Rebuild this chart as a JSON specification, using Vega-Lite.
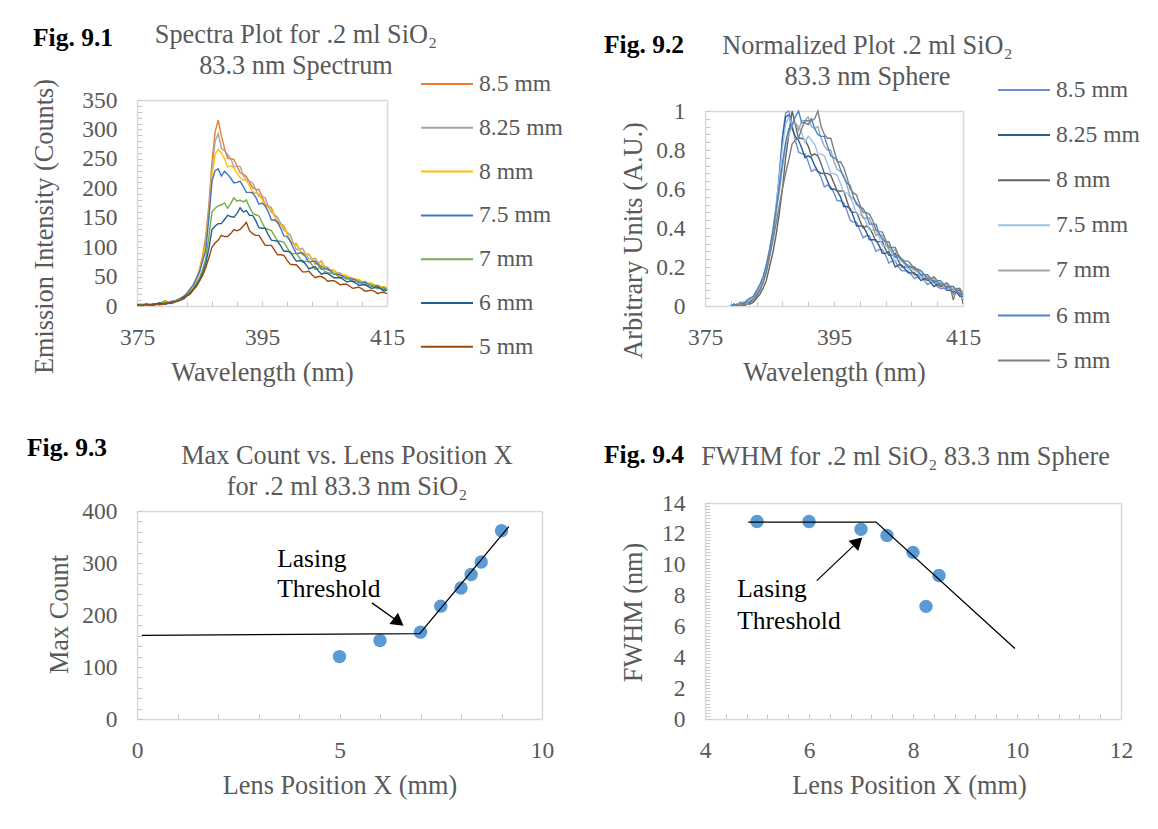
{
"$schema": "https://vega.github.io/schema/vega-lite/v6.json",
"background": "white",
"padding": {"left": 27, "top": 21, "right": 10, "bottom": 10},
"autosize": {"type": "pad"},
"config": {
  "font": "Liberation Serif",
  "view": {"stroke": null},
  "axis": {"labelFont": "Liberation Serif", "labelFontSize": 23.5, "labelColor": "#595959", "titleFont": "Liberation Serif", "titleFontSize": 26.3, "titleColor": "#595959", "titleFontWeight": "normal", "domainColor": "#d9d9d9", "domainWidth": 1.5, "tickColor": "#c8c8c8", "tickWidth": 1, "tickSize": -5, "grid": false, "labelFlush": false, "labelOverlap": false, "labelBound": false, "titleBaseline": "alphabetic", "titleAlign": "center", "titleLineHeight": 31},
  "axisX": {"labelPadding": 24},
  "axisY": {"labelPadding": 25},
  "legend": {"orient": "none", "labelFont": "Liberation Serif", "labelFontSize": 23.6, "labelColor": "#595959", "symbolType": "stroke", "symbolSize": 2704, "symbolStrokeWidth": 2, "labelOffset": 5, "padding": 0, "labelLimit": 300},
  "title": {"font": "Liberation Serif", "fontSize": 25.5, "fontWeight": "bold", "color": "#000000", "orient": "none", "anchor": "start", "baseline": "top"}
},
"concat": [
{
  "width": 250, "height": 206,
  "title": {"text": "Fig. 9.1", "dx": -104, "dy": -74, "baseline": "top"},
  "data": {"values": [
{"w":375,"a":2,"b":1,"c":3,"d":2,"e":1,"f":2,"g":3},
{"w":375.5,"a":1,"b":3,"c":2,"d":1,"e":3,"f":1,"g":1},
{"w":376,"a":1,"b":2,"c":1,"d":3,"e":2,"f":1,"g":2},
{"w":376.5,"a":3,"b":1,"c":2,"d":2,"e":1,"f":3,"g":4},
{"w":377,"a":3,"b":2,"c":2,"d":1,"e":3,"f":2,"g":1},
{"w":377.5,"a":1,"b":4,"c":3,"d":3,"e":2,"f":1,"g":3},
{"w":378,"a":2,"b":3,"c":4,"d":3,"e":2,"f":3,"g":4},
{"w":378.5,"a":4,"b":2,"c":3,"d":5,"e":4,"f":5,"g":2},
{"w":379,"a":4,"b":3,"c":3,"d":5,"e":6,"f":4,"g":3},
{"w":379.5,"a":3,"b":5,"c":6,"d":4,"e":9,"f":3,"g":5},
{"w":380,"a":5,"b":6,"c":5,"d":4,"e":7,"f":5,"g":5},
{"w":380.5,"a":7,"b":5,"c":7,"d":8,"e":6,"f":7,"g":4},
{"w":381,"a":8,"b":7,"c":8,"d":9,"e":8,"f":7,"g":6},
{"w":381.5,"a":11,"b":9,"c":10,"d":10,"e":11,"f":8,"g":9},
{"w":382,"a":13,"b":12,"c":12,"d":14,"e":12,"f":11,"g":10},
{"w":382.5,"a":17,"b":16,"c":15,"d":16,"e":14,"f":15,"g":12},
{"w":383,"a":20,"b":19,"c":21,"d":22,"e":19,"f":18,"g":17},
{"w":383.5,"a":27,"b":25,"c":26,"d":29,"e":24,"f":22,"g":20},
{"w":384,"a":35,"b":33,"c":34,"d":36,"e":30,"f":28,"g":27},
{"w":384.5,"a":46,"b":44,"c":45,"d":47,"e":39,"f":36,"g":33},
{"w":385,"a":62,"b":58,"c":60,"d":58,"e":48,"f":44,"g":42},
{"w":385.5,"a":86,"b":80,"c":80,"d":76,"e":62,"f":56,"g":52},
{"w":386,"a":118,"b":110,"c":105,"d":95,"e":80,"f":72,"g":65},
{"w":386.5,"a":172,"b":162,"c":152,"d":150,"e":118,"f":98,"g":82},
{"w":387,"a":245,"b":232,"c":222,"d":212,"e":160,"f":130,"g":100},
{"w":387.5,"a":296,"b":280,"c":258,"d":230,"e":166,"f":136,"g":107},
{"w":388,"a":316,"b":293,"c":266,"d":233,"e":170,"f":140,"g":112},
{"w":388.5,"a":289,"b":268,"c":260,"d":221,"e":172,"f":140,"g":120},
{"w":389,"a":268,"b":264,"c":250,"d":229,"e":175,"f":147,"g":118},
{"w":389.5,"a":251,"b":257,"c":236,"d":224,"e":166,"f":154,"g":118},
{"w":390,"a":250,"b":251,"c":238,"d":217,"e":174,"f":152,"g":123},
{"w":390.5,"a":249,"b":236,"c":234,"d":209,"e":184,"f":151,"g":130},
{"w":391,"a":238,"b":238,"c":226,"d":210,"e":178,"f":157,"g":128},
{"w":391.5,"a":226,"b":237,"c":218,"d":212,"e":180,"f":167,"g":130},
{"w":392,"a":224,"b":222,"c":214,"d":203,"e":177,"f":160,"g":136},
{"w":392.5,"a":220,"b":214,"c":214,"d":193,"e":180,"f":162,"g":142},
{"w":393,"a":210,"b":212,"c":204,"d":193,"e":168,"f":154,"g":128},
{"w":393.5,"a":201,"b":209,"c":194,"d":192,"e":158,"f":154,"g":123},
{"w":394,"a":198,"b":198,"c":192,"d":185,"e":155,"f":145,"g":120},
{"w":394.5,"a":198,"b":186,"c":190,"d":173,"e":153,"f":133,"g":120},
{"w":395,"a":186,"b":186,"c":181,"d":175,"e":142,"f":132,"g":112},
{"w":395.5,"a":173,"b":184,"c":171,"d":170,"e":132,"f":132,"g":103},
{"w":396,"a":170,"b":170,"c":167,"d":160,"e":130,"f":121,"g":103},
{"w":396.5,"a":167,"b":159,"c":164,"d":146,"e":128,"f":112,"g":103},
{"w":397,"a":154,"b":155,"c":152,"d":146,"e":119,"f":111,"g":95},
{"w":397.5,"a":143,"b":151,"c":141,"d":142,"e":110,"f":110,"g":87},
{"w":398,"a":140,"b":140,"c":138,"d":132,"e":110,"f":102,"g":87},
{"w":398.5,"a":136,"b":129,"c":134,"d":119,"e":108,"f":93,"g":86},
{"w":399,"a":124,"b":125,"c":123,"d":118,"e":100,"f":93,"g":78},
{"w":399.5,"a":110,"b":121,"c":109,"d":111,"e":90,"f":92,"g":71},
{"w":400,"a":106,"b":108,"c":106,"d":99,"e":89,"f":84,"g":70},
{"w":400.5,"a":106,"b":96,"c":104,"d":89,"e":89,"f":76,"g":70},
{"w":401,"a":96,"b":96,"c":96,"d":90,"e":82,"f":77,"g":64},
{"w":401.5,"a":87,"b":98,"c":87,"d":90,"e":74,"f":77,"g":58},
{"w":402,"a":88,"b":88,"c":88,"d":83,"e":76,"f":71,"g":58},
{"w":402.5,"a":88,"b":80,"c":87,"d":74,"e":76,"f":63,"g":59},
{"w":403,"a":80,"b":80,"c":80,"d":76,"e":70,"f":65,"g":53},
{"w":403.5,"a":71,"b":81,"c":74,"d":76,"e":62,"f":67,"g":48},
{"w":404,"a":73,"b":73,"c":74,"d":70,"e":64,"f":60,"g":50},
{"w":404.5,"a":77,"b":66,"c":75,"d":62,"e":69,"f":54,"g":50},
{"w":405,"a":67,"b":67,"c":67,"d":64,"e":60,"f":56,"g":47},
{"w":405.5,"a":61,"b":66,"c":62,"d":63,"e":56,"f":55,"g":42},
{"w":406,"a":61,"b":61,"c":62,"d":59,"e":56,"f":52,"g":43},
{"w":406.5,"a":60,"b":55,"c":61,"d":54,"e":55,"f":48,"g":43},
{"w":407,"a":56,"b":56,"c":57,"d":54,"e":52,"f":48,"g":40},
{"w":407.5,"a":51,"b":56,"c":53,"d":53,"e":48,"f":48,"g":36},
{"w":408,"a":52,"b":52,"c":53,"d":50,"e":48,"f":45,"g":37},
{"w":408.5,"a":51,"b":48,"c":52,"d":46,"e":48,"f":41,"g":37},
{"w":409,"a":48,"b":48,"c":49,"d":47,"e":45,"f":42,"g":34},
{"w":409.5,"a":44,"b":47,"c":46,"d":46,"e":41,"f":42,"g":30},
{"w":410,"a":45,"b":45,"c":46,"d":44,"e":42,"f":39,"g":31},
{"w":410.5,"a":44,"b":41,"c":45,"d":39,"e":42,"f":35,"g":32},
{"w":411,"a":41,"b":41,"c":42,"d":40,"e":38,"f":36,"g":29},
{"w":411.5,"a":37,"b":42,"c":38,"d":40,"e":35,"f":36,"g":25},
{"w":412,"a":38,"b":38,"c":39,"d":37,"e":35,"f":33,"g":26},
{"w":412.5,"a":38,"b":35,"c":39,"d":33,"e":36,"f":30,"g":27},
{"w":413,"a":35,"b":35,"c":36,"d":34,"e":33,"f":31,"g":25},
{"w":413.5,"a":31,"b":35,"c":32,"d":35,"e":29,"f":32,"g":21},
{"w":414,"a":32,"b":32,"c":33,"d":31,"e":31,"f":29,"g":23},
{"w":414.5,"a":33,"b":28,"c":33,"d":28,"e":31,"f":25,"g":23},
{"w":415,"a":30,"b":30,"c":31,"d":29,"e":29,"f":27,"g":21}
  ]},
  "layer": [
    {
      "transform": [{"fold": ["a","b","c","d"], "as": ["pos","count"]}],
      "mark": {"type": "line", "strokeWidth": 1.4, "clip": true},
      "encoding": {
        "x": {"field": "w", "type": "quantitative", "scale": {"domain": [375,415], "nice": false, "zero": false},
              "axis": {"orient": "bottom", "values": [375,379,383,387,391,395,399,403,407,411,415], "labelExpr": "(datum.value-375)%20==0 ? datum.label : ''", "title": "Wavelength (nm)", "titleX": 125, "titleY": 74}},
        "y": {"field": "count", "type": "quantitative", "scale": {"domain": [0,350], "nice": false, "zero": false},
              "axis": {"orient": "left", "values": [0,10,20,30,40,50,60,70,80,90,100,110,120,130,140,150,160,170,180,190,200,210,220,230,240,250,260,270,280,290,300,310,320,330,340,350], "labelExpr": "datum.value%50==0 ? datum.label : ''", "title": "Emission Intensity (Counts)", "titleAngle": 270, "titleX": -84.3, "titleY": 126}},
        "color": {"field": "pos", "type": "nominal", "scale": {"domain": ["a","b","c","d","e","f","g"], "range": ["#ed7d31","#a5a5a5","#ffc000","#4472c4","#70ad47","#255e91","#9e480e"]},
                  "legend": {"title": null, "legendX": 283, "legendY": -43, "rowPadding": 4.8, "labelExpr": "datum.label=='a'?'8.5 mm':datum.label=='b'?'8.25 mm':datum.label=='c'?'8 mm':datum.label=='d'?'7.5 mm':datum.label=='e'?'7 mm':datum.label=='f'?'6 mm':'5 mm'"}}
      }
    },
    {
      "transform": [{"fold": ["e","f","g"], "as": ["pos","count"]}],
      "mark": {"type": "line", "strokeWidth": 1.4, "clip": true},
      "encoding": {
        "x": {"field": "w", "type": "quantitative", "scale": {"domain": [375,415], "nice": false, "zero": false},
              "axis": {"orient": "top", "labels": false, "ticks": false, "title": ["Spectra Plot for .2 ml SiO₂", "83.3 nm Spectrum"], "titleX": 158.5, "titleY": -57.3}},
        "y": {"field": "count", "type": "quantitative", "scale": {"domain": [0,350], "nice": false, "zero": false},
              "axis": {"orient": "right", "labels": false, "ticks": false, "title": null}},
        "color": {"field": "pos", "type": "nominal", "scale": {"domain": ["a","b","c","d","e","f","g"], "range": ["#ed7d31","#a5a5a5","#ffc000","#4472c4","#70ad47","#255e91","#9e480e"]},
                  "legend": {"title": null, "legendX": 283, "legendY": -43, "rowPadding": 4.8, "labelExpr": "datum.label=='a'?'8.5 mm':datum.label=='b'?'8.25 mm':datum.label=='c'?'8 mm':datum.label=='d'?'7.5 mm':datum.label=='e'?'7 mm':datum.label=='f'?'6 mm':'5 mm'"}}
      }
    }
  ],
  "resolve": {"axis": {"x": "independent", "y": "independent"}}
},
{
  "width": 258, "height": 206,
  "title": {"text": "Fig. 9.2", "dx": -101, "dy": -67.3, "baseline": "top"},
  "data": {"values": [
{"w":379,"a":0,"b":0,"c":0,"d":0.01,"e":0,"f":0,"g":0},
{"w":379.5,"a":0.01,"b":0,"c":0,"d":0,"e":0.01,"f":0.01,"g":0},
{"w":380,"a":0,"b":0.01,"c":0,"d":0.01,"e":0,"f":0,"g":0.01},
{"w":380.5,"a":0.01,"b":0,"c":0.01,"d":0,"e":0.01,"f":0.02,"g":0},
{"w":381,"a":0.01,"b":0.02,"c":0,"d":0.01,"e":0.02,"f":0.01,"g":0.01},
{"w":381.5,"a":0.02,"b":0.01,"c":0.01,"d":0.02,"e":0.01,"f":0.03,"g":0.02},
{"w":382,"a":0.03,"b":0.02,"c":0.01,"d":0.03,"e":0.03,"f":0.04,"g":0.02},
{"w":382.5,"a":0.05,"b":0.04,"c":0.02,"d":0.05,"e":0.04,"f":0.05,"g":0.03},
{"w":383,"a":0.06,"b":0.06,"c":0.04,"d":0.07,"e":0.07,"f":0.08,"g":0.05},
{"w":383.5,"a":0.09,"b":0.08,"c":0.06,"d":0.1,"e":0.09,"f":0.11,"g":0.08},
{"w":384,"a":0.14,"b":0.12,"c":0.09,"d":0.14,"e":0.13,"f":0.15,"g":0.12},
{"w":384.5,"a":0.2,"b":0.18,"c":0.13,"d":0.21,"e":0.19,"f":0.21,"g":0.17},
{"w":385,"a":0.27,"b":0.26,"c":0.2,"d":0.28,"e":0.27,"f":0.29,"g":0.25},
{"w":385.5,"a":0.37,"b":0.36,"c":0.27,"d":0.39,"e":0.36,"f":0.38,"g":0.33},
{"w":386,"a":0.5,"b":0.48,"c":0.36,"d":0.51,"e":0.47,"f":0.49,"g":0.42},
{"w":386.5,"a":0.67,"b":0.65,"c":0.47,"d":0.65,"e":0.58,"f":0.61,"g":0.51},
{"w":387,"a":0.87,"b":0.85,"c":0.6,"d":0.81,"e":0.71,"f":0.73,"g":0.6},
{"w":387.5,"a":0.99,"b":0.97,"c":0.76,"d":0.93,"e":0.82,"f":0.84,"g":0.68},
{"w":388,"a":1,"b":0.98,"c":0.88,"d":0.97,"e":0.88,"f":0.91,"g":0.75},
{"w":388.5,"a":0.93,"b":0.91,"c":1,"d":0.93,"e":0.93,"f":0.93,"g":0.83},
{"w":389,"a":0.85,"b":0.87,"c":0.93,"d":0.94,"e":0.94,"f":0.97,"g":0.85},
{"w":389.5,"a":0.79,"b":0.85,"c":0.86,"d":0.92,"e":0.9,"f":1,"g":0.86},
{"w":390,"a":0.78,"b":0.81,"c":0.86,"d":0.89,"e":0.95,"f":0.94,"g":0.91},
{"w":390.5,"a":0.78,"b":0.76,"c":0.85,"d":0.84,"e":0.95,"f":0.94,"g":0.95},
{"w":391,"a":0.74,"b":0.77,"c":0.82,"d":0.87,"e":0.97,"f":0.93,"g":0.95},
{"w":391.5,"a":0.69,"b":0.76,"c":0.77,"d":0.85,"e":0.92,"f":0.96,"g":0.95},
{"w":392,"a":0.7,"b":0.72,"c":0.78,"d":0.83,"e":0.91,"f":0.91,"g":0.96},
{"w":392.5,"a":0.69,"b":0.69,"c":0.77,"d":0.78,"e":0.92,"f":0.88,"g":1},
{"w":393,"a":0.66,"b":0.68,"c":0.73,"d":0.78,"e":0.86,"f":0.87,"g":0.92},
{"w":393.5,"a":0.61,"b":0.68,"c":0.68,"d":0.77,"e":0.82,"f":0.87,"g":0.88},
{"w":394,"a":0.62,"b":0.64,"c":0.68,"d":0.73,"e":0.8,"f":0.82,"g":0.86},
{"w":394.5,"a":0.61,"b":0.6,"c":0.67,"d":0.68,"e":0.8,"f":0.77,"g":0.86},
{"w":395,"a":0.58,"b":0.6,"c":0.63,"d":0.68,"e":0.74,"f":0.76,"g":0.8},
{"w":395.5,"a":0.54,"b":0.59,"c":0.59,"d":0.67,"e":0.7,"f":0.75,"g":0.74},
{"w":396,"a":0.54,"b":0.56,"c":0.59,"d":0.63,"e":0.69,"f":0.7,"g":0.74},
{"w":396.5,"a":0.53,"b":0.51,"c":0.59,"d":0.58,"e":0.67,"f":0.66,"g":0.71},
{"w":397,"a":0.49,"b":0.51,"c":0.54,"d":0.58,"e":0.62,"f":0.63,"g":0.66},
{"w":397.5,"a":0.44,"b":0.5,"c":0.49,"d":0.56,"e":0.56,"f":0.62,"g":0.6},
{"w":398,"a":0.43,"b":0.46,"c":0.48,"d":0.52,"e":0.55,"f":0.56,"g":0.58},
{"w":398.5,"a":0.43,"b":0.41,"c":0.48,"d":0.47,"e":0.53,"f":0.52,"g":0.57},
{"w":399,"a":0.39,"b":0.41,"c":0.44,"d":0.47,"e":0.5,"f":0.51,"g":0.52},
{"w":399.5,"a":0.35,"b":0.41,"c":0.4,"d":0.46,"e":0.45,"f":0.5,"g":0.48},
{"w":400,"a":0.36,"b":0.38,"c":0.41,"d":0.43,"e":0.45,"f":0.47,"g":0.48},
{"w":400.5,"a":0.36,"b":0.34,"c":0.4,"d":0.39,"e":0.45,"f":0.42,"g":0.47},
{"w":401,"a":0.32,"b":0.34,"c":0.37,"d":0.39,"e":0.41,"f":0.42,"g":0.44},
{"w":401.5,"a":0.28,"b":0.34,"c":0.33,"d":0.39,"e":0.36,"f":0.42,"g":0.39},
{"w":402,"a":0.29,"b":0.31,"c":0.33,"d":0.35,"e":0.37,"f":0.37,"g":0.38},
{"w":402.5,"a":0.29,"b":0.27,"c":0.33,"d":0.31,"e":0.36,"f":0.34,"g":0.38},
{"w":403,"a":0.26,"b":0.27,"c":0.29,"d":0.31,"e":0.32,"f":0.33,"g":0.34},
{"w":403.5,"a":0.22,"b":0.28,"c":0.26,"d":0.31,"e":0.29,"f":0.33,"g":0.3},
{"w":404,"a":0.23,"b":0.24,"c":0.26,"d":0.27,"e":0.28,"f":0.29,"g":0.3},
{"w":404.5,"a":0.23,"b":0.2,"c":0.27,"d":0.23,"e":0.29,"f":0.25,"g":0.3},
{"w":405,"a":0.2,"b":0.21,"c":0.23,"d":0.24,"e":0.25,"f":0.26,"g":0.26},
{"w":405.5,"a":0.18,"b":0.21,"c":0.2,"d":0.23,"e":0.23,"f":0.24,"g":0.24},
{"w":406,"a":0.18,"b":0.19,"c":0.2,"d":0.21,"e":0.22,"f":0.22,"g":0.23},
{"w":406.5,"a":0.18,"b":0.17,"c":0.2,"d":0.19,"e":0.21,"f":0.2,"g":0.23},
{"w":407,"a":0.16,"b":0.17,"c":0.18,"d":0.19,"e":0.2,"f":0.2,"g":0.21},
{"w":407.5,"a":0.14,"b":0.17,"c":0.16,"d":0.19,"e":0.18,"f":0.2,"g":0.19},
{"w":408,"a":0.15,"b":0.15,"c":0.16,"d":0.17,"e":0.18,"f":0.18,"g":0.19},
{"w":408.5,"a":0.15,"b":0.13,"c":0.16,"d":0.15,"e":0.18,"f":0.16,"g":0.18},
{"w":409,"a":0.13,"b":0.14,"c":0.14,"d":0.15,"e":0.16,"f":0.16,"g":0.16},
{"w":409.5,"a":0.11,"b":0.14,"c":0.13,"d":0.15,"e":0.14,"f":0.16,"g":0.14},
{"w":410,"a":0.12,"b":0.12,"c":0.13,"d":0.13,"e":0.14,"f":0.14,"g":0.14},
{"w":410.5,"a":0.12,"b":0.1,"c":0.13,"d":0.12,"e":0.14,"f":0.12,"g":0.15},
{"w":411,"a":0.1,"b":0.11,"c":0.11,"d":0.12,"e":0.12,"f":0.13,"g":0.13},
{"w":411.5,"a":0.09,"b":0.11,"c":0.1,"d":0.12,"e":0.11,"f":0.13,"g":0.11},
{"w":412,"a":0.09,"b":0.1,"c":0.1,"d":0.1,"e":0.11,"f":0.11,"g":0.11},
{"w":412.5,"a":0.1,"b":0.08,"c":0.1,"d":0.09,"e":0.11,"f":0.09,"g":0.12},
{"w":413,"a":0.08,"b":0.08,"c":0.09,"d":0.09,"e":0.1,"f":0.1,"g":0.1},
{"w":413.5,"a":0.06,"b":0.09,"c":0.07,"d":0.09,"e":0.08,"f":0.1,"g":0.03},
{"w":414,"a":0.07,"b":0.07,"c":0.08,"d":0.08,"e":0.08,"f":0.08,"g":0.09},
{"w":414.5,"a":0.07,"b":0.05,"c":0.08,"d":0.06,"e":0.09,"f":0.06,"g":0.09},
{"w":415,"a":0.06,"b":0.05,"c":0.07,"d":0.06,"e":0.07,"f":0.06,"g":0.01}
  ]},
  "layer": [
    {
      "transform": [{"fold": ["a","b","c","d"], "as": ["pos","count"]}],
      "mark": {"type": "line", "strokeWidth": 1.4, "clip": true},
      "encoding": {
        "x": {"field": "w", "type": "quantitative", "scale": {"domain": [375,415], "nice": false, "zero": false},
              "axis": {"orient": "bottom", "values": [375,379,383,387,391,395,399,403,407,411,415], "labelExpr": "(datum.value-375)%20==0 ? datum.label : ''", "title": "Wavelength (nm)", "titleX": 129, "titleY": 74}},
        "y": {"field": "count", "type": "quantitative", "scale": {"domain": [0,1], "range": [206,11], "nice": false, "zero": false},
              "axis": {"orient": "left", "values": [0,0.04,0.08,0.12,0.16,0.2,0.24,0.28,0.32,0.36,0.4,0.44,0.48,0.52,0.56,0.6,0.64,0.68,0.72,0.76,0.8,0.84,0.88,0.92,0.96,1], "labelExpr": "abs(datum.value*5-round(datum.value*5))<0.001 ? format(datum.value,'.1~f') : ''", "title": "Arbitrary Units (A.U.)", "titleAngle": 270, "titleX": -63.4, "titleY": 140}},
        "color": {"field": "pos", "type": "nominal", "scale": {"domain": ["a","b","c","d","e","f","g"], "range": ["#6f8fd5","#2a5d93","#636363","#9dc3e6","#a5a5a5","#4285cc","#7f7f7f"]},
                  "legend": {"title": null, "legendX": 292, "legendY": -37, "rowPadding": 6.1, "labelExpr": "datum.label=='a'?'8.5 mm':datum.label=='b'?'8.25 mm':datum.label=='c'?'8 mm':datum.label=='d'?'7.5 mm':datum.label=='e'?'7 mm':datum.label=='f'?'6 mm':'5 mm'"}}
      }
    },
    {
      "transform": [{"fold": ["e","f","g"], "as": ["pos","count"]}],
      "mark": {"type": "line", "strokeWidth": 1.4, "clip": true},
      "encoding": {
        "x": {"field": "w", "type": "quantitative", "scale": {"domain": [375,415], "nice": false, "zero": false},
              "axis": {"orient": "top", "offset": -11, "labels": false, "ticks": false, "title": ["Normalized Plot .2 ml SiO₂", "83.3 nm Sphere"], "titleX": 162, "titleY": -57.7}},
        "y": {"field": "count", "type": "quantitative", "scale": {"domain": [0,1], "range": [206,11], "nice": false, "zero": false},
              "axis": {"orient": "right", "labels": false, "ticks": false, "title": null}},
        "color": {"field": "pos", "type": "nominal", "scale": {"domain": ["a","b","c","d","e","f","g"], "range": ["#6f8fd5","#2a5d93","#636363","#9dc3e6","#a5a5a5","#4285cc","#7f7f7f"]},
                  "legend": {"title": null, "legendX": 292, "legendY": -37, "rowPadding": 6.1, "labelExpr": "datum.label=='a'?'8.5 mm':datum.label=='b'?'8.25 mm':datum.label=='c'?'8 mm':datum.label=='d'?'7.5 mm':datum.label=='e'?'7 mm':datum.label=='f'?'6 mm':'5 mm'"}}
      }
    }
  ],
  "resolve": {"axis": {"x": "independent", "y": "independent"}}
},
{
  "width": 405, "height": 216,
  "title": {"text": "Fig. 9.3", "dx": -110, "dy": -67, "baseline": "top"},
  "layer": [
    {
      "data": {"values": [{"x":5,"y":120},{"x":6,"y":151},{"x":7,"y":167},{"x":7.5,"y":217},{"x":8,"y":252},{"x":8.25,"y":278},{"x":8.5,"y":302},{"x":9,"y":362}]},
      "mark": {"type": "circle", "size": 180, "color": "#5b9bd5", "opacity": 1},
      "encoding": {
        "x": {"field": "x", "type": "quantitative", "scale": {"domain": [0,10], "nice": false, "zero": false},
              "axis": {"orient": "top", "offset": -8, "labels": false, "ticks": false, "title": ["Max Count vs. Lens Position X", "for .2 ml 83.3 nm SiO₂"], "titleX": 209.5, "titleY": -47.7}},
        "y": {"field": "y", "type": "quantitative", "scale": {"domain": [0,400], "range": [216,8], "nice": false, "zero": false},
              "axis": {"orient": "right", "labels": false, "ticks": false, "title": null}}
      }
    },
    {
      "data": {"values": [{"x":0.12,"y":161},{"x":6.98,"y":164},{"x":9.18,"y":370}]},
      "mark": {"type": "line", "color": "#000000", "strokeWidth": 1.3},
      "encoding": {
        "x": {"field": "x", "type": "quantitative", "scale": {"domain": [0,10], "nice": false, "zero": false},
              "axis": {"orient": "bottom", "values": [0,1,2,3,4,5,6,7,8,9,10], "labelExpr": "datum.value%5==0 ? datum.label : ''", "title": "Lens Position X (mm)", "titleX": 202.5, "titleY": 74}},
        "y": {"field": "y", "type": "quantitative", "scale": {"domain": [0,400], "range": [216,8], "nice": false, "zero": false},
              "axis": {"orient": "left", "values": [0,20,40,60,80,100,120,140,160,180,200,220,240,260,280,300,320,340,360,380,400], "labelExpr": "datum.value%100==0 ? datum.label : ''", "title": "Max Count", "titleAngle": 270, "titleX": -70, "titleY": 111}}
      }
    },
    {
      "data": {"values": [{"x":5.8,"y":223.3},{"x":6.42,"y":188.8}]},
      "mark": {"type": "line", "color": "#000000", "strokeWidth": 1.3},
      "encoding": {
        "x": {"field": "x", "type": "quantitative", "scale": {"domain": [0,10], "nice": false, "zero": false}, "axis": null},
        "y": {"field": "y", "type": "quantitative", "scale": {"domain": [0,400], "range": [216,8], "nice": false, "zero": false}, "axis": null}
      }
    },
    {
      "data": {"values": [{"x":6.42,"y":188.8}]},
      "mark": {"type": "point", "shape": "triangle", "filled": true, "color": "#000000", "opacity": 1, "size": 200, "angle": 127},
      "encoding": {
        "x": {"field": "x", "type": "quantitative", "scale": {"domain": [0,10], "nice": false, "zero": false}, "axis": null},
        "y": {"field": "y", "type": "quantitative", "scale": {"domain": [0,400], "range": [216,8], "nice": false, "zero": false}, "axis": null}
      }
    },
    {
      "data": {"values": [{"t":"Lasing","x":3.46,"y":293.2},{"t":"Threshold","x":3.46,"y":233.8}]},
      "mark": {"type": "text", "align": "left", "baseline": "alphabetic", "fontSize": 25.5, "color": "#000000", "font": "Liberation Serif"},
      "encoding": {
        "x": {"field": "x", "type": "quantitative", "scale": {"domain": [0,10], "nice": false, "zero": false}, "axis": null},
        "y": {"field": "y", "type": "quantitative", "scale": {"domain": [0,400], "range": [216,8], "nice": false, "zero": false}, "axis": null},
        "text": {"field": "t"}
      }
    }
  ],
  "resolve": {"axis": {"x": "independent", "y": "independent"}}
},
{
  "width": 416, "height": 216,
  "title": {"text": "Fig. 9.4", "dx": -101, "dy": -60.3, "baseline": "top"},
  "layer": [
    {
      "data": {"values": [{"x":5,"y":12.8},{"x":6,"y":12.8},{"x":7,"y":12.3},{"x":7.5,"y":11.9},{"x":8,"y":10.8},{"x":8.25,"y":7.3},{"x":8.5,"y":9.3}]},
      "mark": {"type": "circle", "size": 180, "color": "#5b9bd5", "opacity": 1},
      "encoding": {
        "x": {"field": "x", "type": "quantitative", "scale": {"domain": [4,12], "nice": false, "zero": false},
              "axis": {"orient": "top", "labels": false, "ticks": false, "title": "FWHM for .2 ml SiO₂ 83.3 nm Sphere", "titleX": 200, "titleY": -38.7}},
        "y": {"field": "y", "type": "quantitative", "scale": {"domain": [0,14], "nice": false, "zero": false},
              "axis": {"orient": "right", "labels": false, "ticks": false, "title": null}}
      }
    },
    {
      "data": {"values": [{"x":4.83,"y":12.76},{"x":7.29,"y":12.76},{"x":9.96,"y":4.57}]},
      "mark": {"type": "line", "color": "#000000", "strokeWidth": 1.3},
      "encoding": {
        "x": {"field": "x", "type": "quantitative", "scale": {"domain": [4,12], "nice": false, "zero": false},
              "axis": {"orient": "bottom", "values": [4,4.4,4.8,5.2,5.6,6,6.4,6.8,7.2,7.6,8,8.4,8.8,9.2,9.6,10,10.4,10.8,11.2,11.6,12], "labelExpr": "abs(datum.value/2-round(datum.value/2))<0.001 ? format(datum.value,'d') : ''", "title": "Lens Position X (mm)", "titleX": 204, "titleY": 74}},
        "y": {"field": "y", "type": "quantitative", "scale": {"domain": [0,14], "nice": false, "zero": false},
              "axis": {"orient": "left", "values": [0,0.2,0.4,0.6,0.8,1,1.2,1.4,1.6,1.8,2,2.2,2.4,2.6,2.8,3,3.2,3.4,3.6,3.8,4,4.2,4.4,4.6,4.8,5,5.2,5.4,5.6,5.8,6,6.2,6.4,6.6,6.8,7,7.2,7.4,7.6,7.8,8,8.2,8.4,8.6,8.8,9,9.2,9.4,9.6,9.8,10,10.2,10.4,10.6,10.8,11,11.2,11.4,11.6,11.8,12,12.2,12.4,12.6,12.8,13,13.2,13.4,13.6,13.8,14], "labelExpr": "abs(datum.value/2-round(datum.value/2))<0.001 ? format(datum.value,'d') : ''", "title": "FWHM (nm)", "titleAngle": 270, "titleX": -64, "titleY": 109}}
      }
    },
    {
      "data": {"values": [{"x":6.15,"y":8.97},{"x":6.91,"y":11.4}]},
      "mark": {"type": "line", "color": "#000000", "strokeWidth": 1.3},
      "encoding": {
        "x": {"field": "x", "type": "quantitative", "scale": {"domain": [4,12], "nice": false, "zero": false}, "axis": null},
        "y": {"field": "y", "type": "quantitative", "scale": {"domain": [0,14], "nice": false, "zero": false}, "axis": null}
      }
    },
    {
      "data": {"values": [{"x":6.91,"y":11.4}]},
      "mark": {"type": "point", "shape": "triangle", "filled": true, "color": "#000000", "opacity": 1, "size": 200, "angle": 47},
      "encoding": {
        "x": {"field": "x", "type": "quantitative", "scale": {"domain": [4,12], "nice": false, "zero": false}, "axis": null},
        "y": {"field": "y", "type": "quantitative", "scale": {"domain": [0,14], "nice": false, "zero": false}, "axis": null}
      }
    },
    {
      "data": {"values": [{"t":"Lasing","x":4.62,"y":7.93},{"t":"Threshold","x":4.62,"y":5.83}]},
      "mark": {"type": "text", "align": "left", "baseline": "alphabetic", "fontSize": 25.5, "color": "#000000", "font": "Liberation Serif"},
      "encoding": {
        "x": {"field": "x", "type": "quantitative", "scale": {"domain": [4,12], "nice": false, "zero": false}, "axis": null},
        "y": {"field": "y", "type": "quantitative", "scale": {"domain": [0,14], "nice": false, "zero": false}, "axis": null},
        "text": {"field": "t"}
      }
    }
  ],
  "resolve": {"axis": {"x": "independent", "y": "independent"}}
}
],
"columns": 2,
"bounds": "flush",
"align": "each",
"spacing": {"row": 197, "column": 163},
"resolve": {"scale": {"color": "independent"}, "legend": {"color": "independent"}}
}
